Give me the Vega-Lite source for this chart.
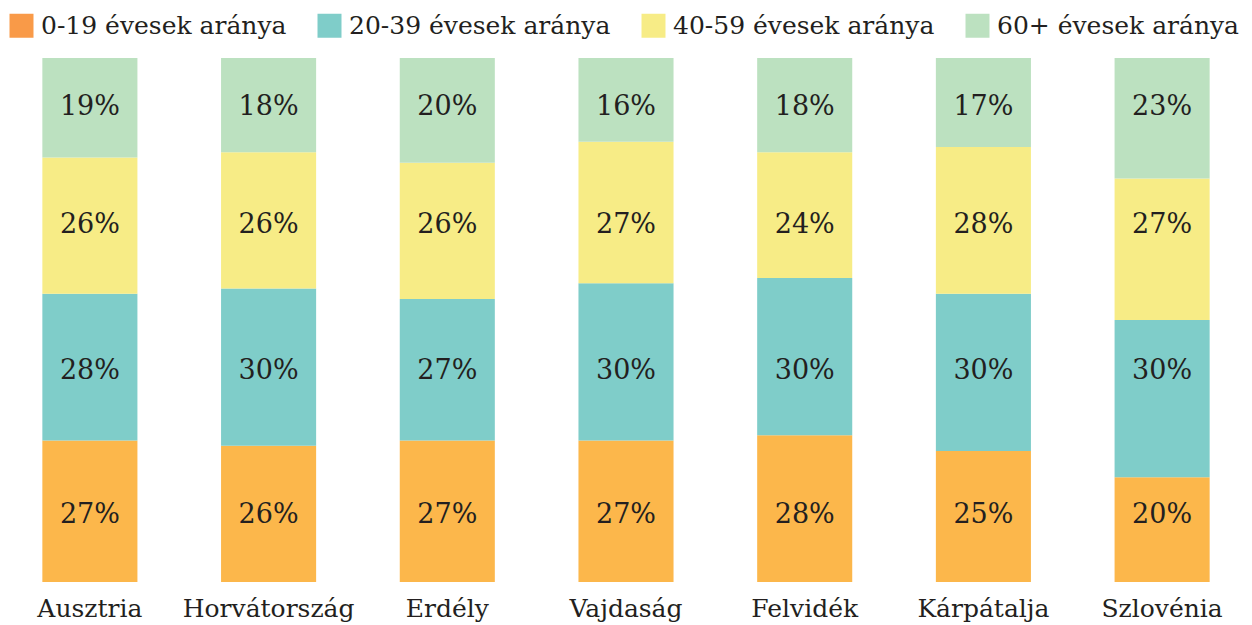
{
  "$schema": "https://vega.github.io/schema/vega-lite/v6.json",
  "width": 1252,
  "height": 524,
  "autosize": {"type": "none"},
  "padding": {"top": 58, "bottom": 43, "left": 0, "right": 0},
  "background": "white",
  "config": {
    "view": {"stroke": null},
    "font": "DejaVu Serif"
  },
  "data": {
    "values": [
      {"region": "Ausztria", "group": "0-19 évesek aránya", "pct": 27},
      {"region": "Ausztria", "group": "20-39 évesek aránya", "pct": 28},
      {"region": "Ausztria", "group": "40-59 évesek aránya", "pct": 26},
      {"region": "Ausztria", "group": "60+ évesek aránya", "pct": 19},
      {"region": "Horvátország", "group": "0-19 évesek aránya", "pct": 26},
      {"region": "Horvátország", "group": "20-39 évesek aránya", "pct": 30},
      {"region": "Horvátország", "group": "40-59 évesek aránya", "pct": 26},
      {"region": "Horvátország", "group": "60+ évesek aránya", "pct": 18},
      {"region": "Erdély", "group": "0-19 évesek aránya", "pct": 27},
      {"region": "Erdély", "group": "20-39 évesek aránya", "pct": 27},
      {"region": "Erdély", "group": "40-59 évesek aránya", "pct": 26},
      {"region": "Erdély", "group": "60+ évesek aránya", "pct": 20},
      {"region": "Vajdaság", "group": "0-19 évesek aránya", "pct": 27},
      {"region": "Vajdaság", "group": "20-39 évesek aránya", "pct": 30},
      {"region": "Vajdaság", "group": "40-59 évesek aránya", "pct": 27},
      {"region": "Vajdaság", "group": "60+ évesek aránya", "pct": 16},
      {"region": "Felvidék", "group": "0-19 évesek aránya", "pct": 28},
      {"region": "Felvidék", "group": "20-39 évesek aránya", "pct": 30},
      {"region": "Felvidék", "group": "40-59 évesek aránya", "pct": 24},
      {"region": "Felvidék", "group": "60+ évesek aránya", "pct": 18},
      {"region": "Kárpátalja", "group": "0-19 évesek aránya", "pct": 25},
      {"region": "Kárpátalja", "group": "20-39 évesek aránya", "pct": 30},
      {"region": "Kárpátalja", "group": "40-59 évesek aránya", "pct": 28},
      {"region": "Kárpátalja", "group": "60+ évesek aránya", "pct": 17},
      {"region": "Szlovénia", "group": "0-19 évesek aránya", "pct": 20},
      {"region": "Szlovénia", "group": "20-39 évesek aránya", "pct": 30},
      {"region": "Szlovénia", "group": "40-59 évesek aránya", "pct": 27},
      {"region": "Szlovénia", "group": "60+ évesek aránya", "pct": 23}
    ]
  },
  "transform": [
    {"stack": "pct", "groupby": ["region"], "sort": [{"field": "group", "order": "ascending"}], "as": ["y0", "y1"]},
    {"joinaggregate": [{"op": "mean", "field": "y0", "as": "m0"}, {"op": "mean", "field": "y1", "as": "m1"}], "groupby": ["group"]},
    {"calculate": "(datum.m0 + datum.m1) / 2", "as": "ymid"},
    {"calculate": "datum.pct + '%'", "as": "label"}
  ],
  "encoding": {
    "x": {
      "field": "region",
      "type": "nominal",
      "sort": ["Ausztria", "Horvátország", "Erdély", "Vajdaság", "Felvidék", "Kárpátalja", "Szlovénia"],
      "scale": {"paddingInner": 0.468, "paddingOuter": 0.237},
      "axis": {
        "title": null,
        "labelAngle": 0,
        "ticks": false,
        "domain": false,
        "labelFontSize": 25,
        "labelColor": "#231F20",
        "labelPadding": 14
      }
    }
  },
  "layer": [
    {
      "mark": {"type": "square", "size": 100},
      "encoding": {
        "y": {"field": "ymid", "type": "quantitative", "scale": {"domain": [0, 100]}, "axis": null},
        "color": {
          "field": "group",
          "type": "nominal",
          "scale": {
            "domain": ["0-19 évesek aránya", "20-39 évesek aránya", "40-59 évesek aránya", "60+ évesek aránya"],
            "range": ["#F99A48", "#7FCDC9", "#F7EC86", "#BCE1C0"]
          },
          "legend": {
            "title": null,
            "orient": "none",
            "direction": "horizontal",
            "legendX": 9,
            "legendY": -45,
            "padding": 0,
            "symbolType": "square",
            "symbolSize": 576,
            "symbolStrokeWidth": 0,
            "symbolOpacity": 1,
            "labelFontSize": 25,
            "labelColor": "#231F20",
            "labelOffset": 7,
            "columnPadding": 30,
            "labelLimit": 400
          }
        }
      }
    },
    {
      "mark": {"type": "bar"},
      "encoding": {
        "y": {"field": "y0", "type": "quantitative", "scale": {"domain": [0, 100]}, "axis": null},
        "y2": {"field": "y1"},
        "fill": {
          "field": "group",
          "type": "nominal",
          "scale": {
            "domain": ["0-19 évesek aránya", "20-39 évesek aránya", "40-59 évesek aránya", "60+ évesek aránya"],
            "range": ["#FCB74B", "#7FCDC9", "#F7EC86", "#BCE1C0"]
          },
          "legend": null
        }
      }
    },
    {
      "mark": {"type": "text", "fontSize": 27, "color": "#231F20", "baseline": "middle", "align": "center"},
      "encoding": {
        "y": {"field": "ymid", "type": "quantitative", "scale": {"domain": [0, 100]}},
        "text": {"field": "label", "type": "nominal"},
        "detail": {"field": "group"}
      }
    }
  ]
}
